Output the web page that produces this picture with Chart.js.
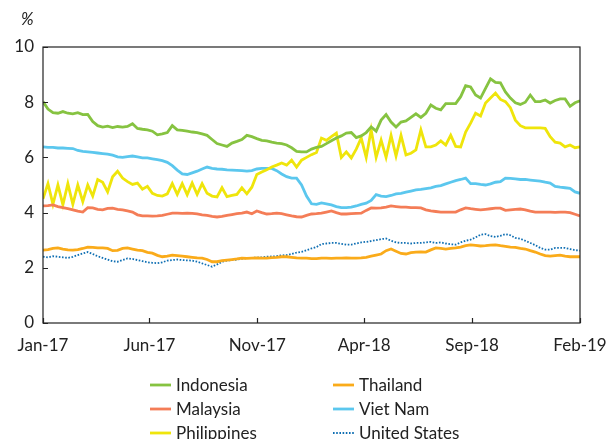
<!DOCTYPE html>
<html>
<head>
<meta charset="utf-8">
<script src="https://cdn.jsdelivr.net/npm/chart.js@4"></script>
<style>
  html, body { margin: 0; padding: 0; background: #fff; }
  #wrap { width: 607px; height: 439px; }
</style>
</head>
<body>
<div id="wrap"><canvas id="yieldChart" width="607" height="439"></canvas></div>
<script>
// weekly observations, Jan-2017 to Feb-2019 (week index 0..108)
var tickWeeks = [0, 21.4, 43.1, 64.6, 86.3, 108];
var tickLabels = ["Jan-17", "Jun-17", "Nov-17", "Apr-18", "Sep-18", "Feb-19"];

var indonesia = [8.02, 7.75, 7.62, 7.6, 7.66, 7.6, 7.58, 7.62, 7.55, 7.56,
  7.3, 7.15, 7.1, 7.13, 7.08, 7.12, 7.1, 7.12, 7.22, 7.05,
  7.02, 7.0, 6.95, 6.82, 6.85, 6.9, 7.15, 7.0, 6.98, 6.95,
  6.92, 6.9, 6.85, 6.8, 6.65, 6.5, 6.45, 6.4, 6.52, 6.58,
  6.65, 6.8, 6.75, 6.68, 6.62, 6.6, 6.55, 6.52, 6.5, 6.45,
  6.35, 6.22, 6.2, 6.2, 6.3, 6.36, 6.4, 6.5, 6.6, 6.7,
  6.78, 6.88, 6.9, 6.72, 6.78, 6.9, 7.1, 6.95, 7.35, 7.55,
  7.28, 7.1, 7.28, 7.32, 7.45, 7.58, 7.45, 7.6, 7.9, 7.78,
  7.72, 7.95, 7.95, 7.95, 8.2, 8.6, 8.55, 8.26, 8.15, 8.5,
  8.85, 8.72, 8.7, 8.37, 8.15, 7.98, 7.92, 8.0, 8.26, 8.02,
  8.02, 8.08, 7.97, 8.06, 8.12, 8.12, 7.85, 7.98, 8.05];

var malaysia = [4.24, 4.25, 4.28, 4.22, 4.18, 4.14, 4.1, 4.05, 4.02, 4.18,
  4.17, 4.12, 4.1, 4.15, 4.16, 4.12, 4.1, 4.06, 4.02, 3.92,
  3.88, 3.88, 3.87, 3.88, 3.9, 3.94, 3.98, 3.98, 3.97, 3.98,
  3.97, 3.95, 3.92, 3.9, 3.86, 3.84, 3.86, 3.9, 3.93, 3.96,
  3.98, 4.02, 3.96, 4.06, 4.0, 3.95, 3.96, 3.98, 3.96, 3.92,
  3.88, 3.85, 3.84, 3.9, 3.95, 3.96, 3.98, 4.02, 4.06, 4.0,
  3.95, 3.95, 3.96, 3.97, 3.98, 4.08, 4.17, 4.16, 4.17, 4.2,
  4.24, 4.22, 4.2, 4.2, 4.18, 4.18, 4.17, 4.1, 4.06, 4.04,
  4.02, 4.02, 4.02, 4.02, 4.1, 4.17, 4.14, 4.12, 4.1, 4.12,
  4.14, 4.16, 4.16, 4.08, 4.1, 4.12, 4.13, 4.1, 4.05, 4.02,
  4.02, 4.02, 4.02, 4.01, 4.02, 4.02, 4.0, 3.94, 3.88];

var philippines = [4.5, 5.05, 4.3, 5.0, 4.28, 5.05, 4.3, 5.0, 4.4, 5.0,
  4.6, 5.2, 5.1, 4.75, 5.3, 5.5, 5.25, 5.12, 5.02, 5.07,
  4.85, 4.95, 4.7, 4.62, 4.6, 4.68, 5.05, 4.66, 5.05, 4.65,
  5.07, 4.66, 5.05, 4.7, 4.6, 4.57, 4.9, 4.58, 4.62, 4.66,
  4.9, 4.68, 4.92, 5.38, 5.47, 5.55, 5.65, 5.72, 5.8, 5.72,
  5.9, 5.65, 5.9, 6.0, 6.1, 6.18, 6.7, 6.62, 6.75, 6.88,
  6.0, 6.2, 5.98, 6.3, 6.7, 6.0, 7.0, 6.0, 6.63, 6.0,
  6.8, 6.05, 6.8, 6.09, 6.15, 6.27, 7.0, 6.38, 6.38, 6.45,
  6.6, 6.45, 6.8, 6.4, 6.38, 6.92, 7.24, 7.6, 7.5, 7.97,
  8.15, 8.33, 8.1, 8.02, 7.8, 7.35, 7.15, 7.07, 7.07, 7.07,
  7.07, 7.05, 6.75, 6.55, 6.52, 6.38, 6.45, 6.35, 6.38];

var thailand = [2.64, 2.66, 2.7, 2.72, 2.68, 2.65, 2.64, 2.66, 2.7, 2.75,
  2.74, 2.72, 2.72, 2.7, 2.62, 2.63, 2.7, 2.72, 2.68, 2.64,
  2.62, 2.56, 2.53, 2.45, 2.4, 2.42, 2.46, 2.44, 2.42, 2.4,
  2.38, 2.36, 2.35, 2.3, 2.22, 2.22, 2.26, 2.28, 2.3, 2.32,
  2.35, 2.34, 2.35, 2.36, 2.35, 2.35, 2.37, 2.38, 2.4, 2.4,
  2.38, 2.36, 2.35, 2.35, 2.33, 2.33, 2.35, 2.35, 2.34, 2.35,
  2.35, 2.36, 2.35, 2.35, 2.36, 2.38, 2.42, 2.46, 2.5, 2.62,
  2.68, 2.6, 2.52, 2.5, 2.55, 2.57, 2.58, 2.57, 2.65, 2.72,
  2.7, 2.68, 2.7, 2.72, 2.75, 2.8, 2.83, 2.81, 2.79, 2.8,
  2.82, 2.83, 2.8, 2.78, 2.75, 2.74, 2.7, 2.68, 2.62, 2.57,
  2.5, 2.44, 2.42, 2.44, 2.46, 2.42, 2.4, 2.4, 2.4];

var vietNam = [6.38, 6.36, 6.36, 6.34, 6.34, 6.33, 6.32, 6.25, 6.22, 6.2,
  6.18, 6.16, 6.14, 6.12, 6.08, 6.02, 6.0, 6.03, 6.05, 6.02,
  5.98, 5.98, 5.95, 5.92, 5.88, 5.82, 5.7, 5.54, 5.4, 5.38,
  5.44, 5.5, 5.58, 5.65, 5.6, 5.58, 5.57, 5.55, 5.54, 5.53,
  5.52, 5.5, 5.52, 5.58, 5.6, 5.6, 5.6, 5.52, 5.4, 5.3,
  5.25, 5.25, 5.0, 4.6, 4.32, 4.3, 4.35, 4.32, 4.28, 4.22,
  4.18, 4.18, 4.2, 4.24, 4.3, 4.34, 4.44, 4.65, 4.6, 4.58,
  4.62, 4.68, 4.7, 4.74, 4.78, 4.82, 4.84, 4.87, 4.9, 4.95,
  4.98, 5.04, 5.1, 5.16, 5.2, 5.25, 5.05, 5.05, 5.02, 5.0,
  5.04, 5.1, 5.12, 5.25, 5.24, 5.22, 5.2, 5.2, 5.18, 5.16,
  5.14, 5.1, 5.07, 4.95, 4.92, 4.9, 4.88, 4.75, 4.7];

var unitedStates = [2.4, 2.38, 2.42, 2.4, 2.38, 2.36, 2.4, 2.46, 2.52, 2.57,
  2.5, 2.42, 2.36, 2.3, 2.24, 2.22, 2.28, 2.34, 2.32, 2.28,
  2.24, 2.2, 2.18, 2.17, 2.2, 2.26, 2.28, 2.3, 2.28, 2.27,
  2.26, 2.22, 2.16, 2.1, 2.04, 2.12, 2.22, 2.26, 2.28, 2.3,
  2.33, 2.35, 2.36, 2.37, 2.38, 2.4, 2.41, 2.42, 2.45, 2.46,
  2.5, 2.55, 2.58, 2.64, 2.7, 2.75, 2.86, 2.88, 2.9, 2.9,
  2.87, 2.84, 2.84, 2.88, 2.92, 2.94, 2.97, 3.0, 3.04, 3.06,
  2.98, 2.92, 2.9, 2.9, 2.88, 2.9, 2.9, 2.92, 2.94, 2.9,
  2.92, 2.88, 2.85, 2.84, 2.92, 2.98, 3.02, 3.1, 3.2, 3.22,
  3.15, 3.12, 3.16, 3.22, 3.18, 3.08, 3.05, 2.98, 2.9, 2.82,
  2.72, 2.66, 2.66, 2.72, 2.72, 2.72, 2.68, 2.64, 2.62];

var FONT = "Lato, 'Open Sans', sans-serif";

function toPoints(values) {
    return values.map(function (v, i) { return { x: i, y: v }; });
}

function series(label, values, color, dash, width) {
    return {
        label: label,
        data: toPoints(values),
        borderColor: color,
        backgroundColor: color,
        borderWidth: width || 2.8,
        borderDash: dash || [],
        pointRadius: 0,
        tension: 0,
        fill: false
    };
}

// draw order: US dotted last so it sits on top of Thailand
var datasets = [
    series("Indonesia", indonesia, "#86C341"),
    series("Malaysia", malaysia, "#F47D57"),
    series("Philippines", philippines, "#EFE50B"),
    series("Thailand", thailand, "#FAAB1A"),
    series("Viet Nam", vietNam, "#5BC7EE"),
    series("United States", unitedStates, "#0F6FB3", [1.6, 1.6], 1.8)
];

// legend layout: two columns, three rows
var legendOrder = [
    ["Indonesia", 0, 0], ["Malaysia", 0, 1], ["Philippines", 0, 2],
    ["Thailand", 1, 0], ["Viet Nam", 1, 1], ["United States", 1, 2]
];

var framePlugin = {
    id: "frame",
    afterDatasetsDraw: function (chart) {
        var ctx = chart.ctx, a = chart.chartArea;
        ctx.save();
        ctx.strokeStyle = "#222";
        ctx.lineWidth = 1.2;
        ctx.strokeRect(a.left, a.top, a.right - a.left, a.bottom - a.top);
        // inside tick marks
        ctx.beginPath();
        chart.scales.x.ticks.forEach(function (t) {
            var px = Math.round(chart.scales.x.getPixelForValue(t.value)) + 0.5;
            ctx.moveTo(px, a.bottom);
            ctx.lineTo(px, a.bottom - 5);
        });
        chart.scales.y.ticks.forEach(function (t) {
            var py = Math.round(chart.scales.y.getPixelForValue(t.value)) + 0.5;
            ctx.moveTo(a.left, py);
            ctx.lineTo(a.left + 5, py);
        });
        ctx.stroke();

        // unit label
        ctx.fillStyle = "#222";
        ctx.font = "italic 17px " + FONT;
        ctx.textAlign = "left";
        ctx.textBaseline = "middle";
        ctx.fillText("%", 21, 20);

        // legend
        var colX = [150, 333], rowY = [385, 409, 433];
        ctx.font = "17px " + FONT;
        legendOrder.forEach(function (item) {
            var ds = chart.data.datasets.find(function (d) { return d.label === item[0]; });
            var x = colX[item[1]], y = rowY[item[2]];
            ctx.beginPath();
            ctx.strokeStyle = ds.borderColor;
            ctx.lineWidth = ds.borderWidth;
            ctx.setLineDash(ds.borderDash);
            ctx.moveTo(x, y);
            ctx.lineTo(x + 21, y);
            ctx.stroke();
            ctx.setLineDash([]);
            ctx.fillStyle = "#222";
            ctx.fillText(item[0], x + 26, y + 1);
        });
        ctx.restore();
    }
};

var yieldChart = new Chart(document.getElementById("yieldChart"), {
    type: "line",
    data: { datasets: datasets },
    options: {
        responsive: false,
        animation: false,
        layout: { padding: { top: 47, right: 27, bottom: 76, left: 0 } },
        plugins: {
            legend: { display: false },
            tooltip: { enabled: false }
        },
        scales: {
            x: {
                type: "linear",
                min: 0,
                max: 108,
                grid: { display: false, drawTicks: false },
                border: { display: false },
                afterBuildTicks: function (scale) {
                    scale.ticks = tickWeeks.map(function (w) { return { value: w }; });
                },
                afterFit: function (scale) {
                    scale.height = 40;
                    scale.paddingLeft = 0;
                    scale.paddingRight = 0;
                },
                ticks: {
                    autoSkip: false,
                    maxRotation: 0,
                    padding: 12,
                    color: "#222",
                    font: { family: FONT, size: 17 },
                    callback: function (value) {
                        var i = tickWeeks.indexOf(value);
                        return i >= 0 ? tickLabels[i] : "";
                    }
                }
            },
            y: {
                min: 0,
                max: 10,
                grid: { display: false, drawTicks: false },
                border: { display: false },
                afterFit: function (scale) {
                    scale.width = 43;
                    scale.paddingTop = 0;
                    scale.paddingBottom = 0;
                },
                ticks: {
                    stepSize: 2,
                    padding: 9,
                    color: "#222",
                    font: { family: FONT, size: 17 }
                }
            }
        }
    },
    plugins: [framePlugin]
});
</script>
</body>
</html>
